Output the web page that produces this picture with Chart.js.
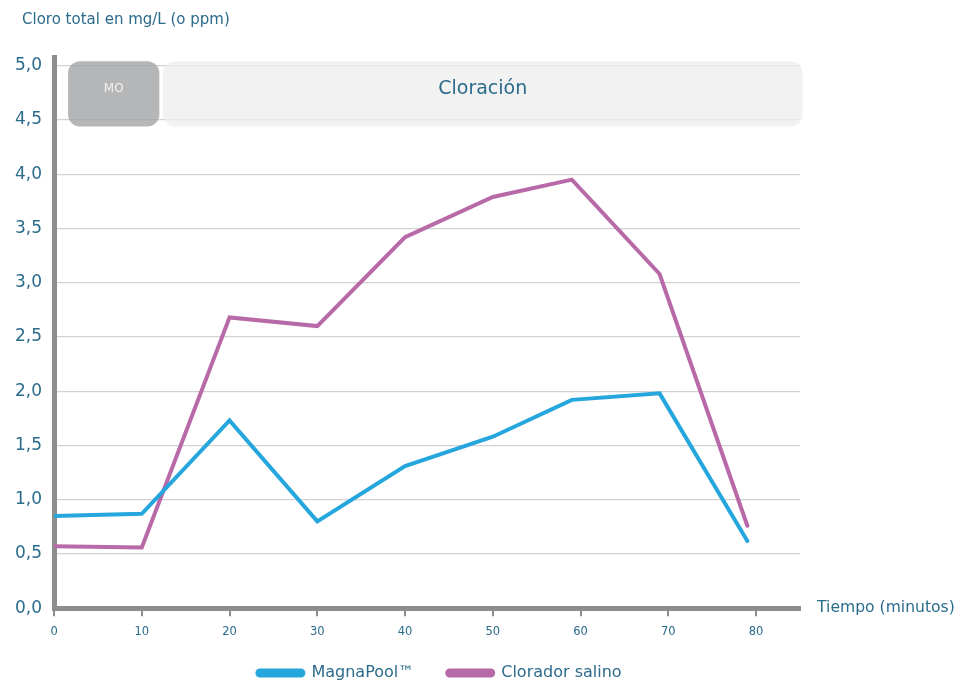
<!DOCTYPE html>
<html>
<head>
<meta charset="utf-8">
<script src="https://cdn.jsdelivr.net/npm/chart.js@4/dist/chart.umd.min.js"></script>
<style>
  html, body { margin: 0; padding: 0; background: #fff; }
  #wrap { width: 955px; height: 681px; position: relative; }
</style>
</head>
<body>
<div id="wrap"><canvas id="chart"></canvas></div>
<script>
// minutes at which each sample was taken
let minutes = [0, 10, 20, 30, 40, 50, 59, 69, 79];
let magnaPool = [0.85, 0.87, 1.73, 0.80, 1.31, 1.58, 1.92, 1.98, 0.62];
let cloradorSalino = [0.57, 0.56, 2.68, 2.60, 3.42, 3.79, 3.95, 3.08, 0.76];
let seriesNames = ["MagnaPool™", "Clorador salino"];
let xTicks = [0, 10, 20, 30, 40, 50, 60, 70, 80];
let yTicks = [0, 0.5, 1, 1.5, 2, 2.5, 3, 3.5, 4, 4.5, 5];

// phase bands along the top of the plot
let phaseNames = ["MO", "Cloración"];
let phaseStart = [1.6, 12.4];
let phaseEnd = [12.0, 85.3];

const TEXT = "#2b6b8c";
const AXIS = "#8c8e8e";
const FONT = "'DejaVu Sans', sans-serif";

function pts(values) {
    return values.map((v, i) => ({ x: minutes[i], y: v }));
}

/* extra drawing: phase boxes, axis titles */
const extras = {
    id: "extras",
    beforeInit(c) {
        // wide gap between legend items, but less room taken from the plot
        let fit = c.legend.fit;
        c.legend.fit = function () {
            fit.call(this);
            this.height -= 26;
        };
    },
    afterLayout(c) {
        // legend draws from top + padding and clips to its box
        c.legend.top -= 16;
        c.legend.height += 16;
        // centre it under the whole picture, not only the plot
        c.legend.right += 76;
        c.legend.width += 76;
    },
    beforeDatasetsDraw(c) {
        let ctx = c.ctx, x = c.scales.x, y = c.scales.y;
        let top = y.getPixelForValue(5.04), bottom = y.getPixelForValue(4.44);
        ctx.save();
        phaseNames.forEach((name, i) => {
            let l = x.getPixelForValue(phaseStart[i]);
            let r = x.getPixelForValue(phaseEnd[i]);
            ctx.beginPath();
            ctx.roundRect(l, top, r - l, bottom - top, 12);
            ctx.fillStyle = i == 0 ? "rgba(165,166,168,0.82)" : "rgba(238,238,238,0.75)";
            ctx.fill();
            ctx.textAlign = "center";
            ctx.textBaseline = "middle";
            if (i == 0) {
                ctx.fillStyle = "#f4f4f4";
                ctx.font = "12px " + FONT;
            } else {
                ctx.fillStyle = TEXT;
                ctx.font = "19px " + FONT;
            }
            ctx.fillText(name, (l + r) / 2, (top + bottom) / 2 - 5);
        });
        ctx.restore();
    },
    afterDraw(c) {
        let ctx = c.ctx, y = c.scales.y;
        ctx.save();
        ctx.fillStyle = TEXT;
        ctx.font = "15px " + FONT;
        ctx.textBaseline = "middle";
        ctx.textAlign = "left";
        ctx.fillText("Cloro total en mg/L (o ppm)", 22, 20);
        ctx.font = "15.6px " + FONT;
        ctx.fillText("Tiempo (minutos)", c.chartArea.right + 17, y.getPixelForValue(0));
        ctx.restore();
    }
};

let chart = new Chart(document.getElementById("chart"), {
    type: "line",
    data: {
        datasets: [
            { label: seriesNames[0], data: pts(magnaPool), borderColor: "#25a6dc", backgroundColor: "#25a6dc" },
            { label: seriesNames[1], data: pts(cloradorSalino), borderColor: "#b86aa8", backgroundColor: "#b86aa8" }
        ]
    },
    options: {
        responsive: true,
        maintainAspectRatio: false,
        animation: false,
        layout: { padding: { top: 57, left: 3, right: 155, bottom: 0 } },
        elements: {
            line: { borderWidth: 4, tension: 0, borderCapStyle: "round", borderJoinStyle: "miter" },
            point: { radius: 0 }
        },
        scales: {
            x: {
                type: "linear",
                min: 0,
                max: 85,
                afterBuildTicks: s => { s.ticks = xTicks.map(v => ({ value: v })); },
                grid: { drawOnChartArea: false, drawTicks: true, tickLength: 8, color: AXIS, lineWidth: 2 },
                border: { color: AXIS, width: 5 },
                ticks: { color: TEXT, font: { size: 11.5, family: FONT }, padding: 9, maxRotation: 0 }
            },
            y: {
                min: 0,
                max: 5.08,
                afterBuildTicks: s => { s.ticks = yTicks.map(v => ({ value: v })); },
                grid: { drawTicks: false, color: "#d2d2d2", lineWidth: 1.2 },
                border: { color: AXIS, width: 5 },
                ticks: {
                    color: TEXT, padding: 12,
                    font: { size: 17, family: FONT },
                    callback: v => v.toFixed(1).replace(".", ",")
                }
            }
        },
        plugins: {
            legend: {
                position: "bottom",
                labels: {
                    color: TEXT,
                    font: { size: 16, family: FONT },
                    boxWidth: 46,
                    boxHeight: 5,
                    useBorderRadius: true,
                    borderRadius: 2.5,
                    padding: 33
                }
            },
            tooltip: { enabled: false }
        }
    },
    plugins: [extras]
});
</script>
</body>
</html>
